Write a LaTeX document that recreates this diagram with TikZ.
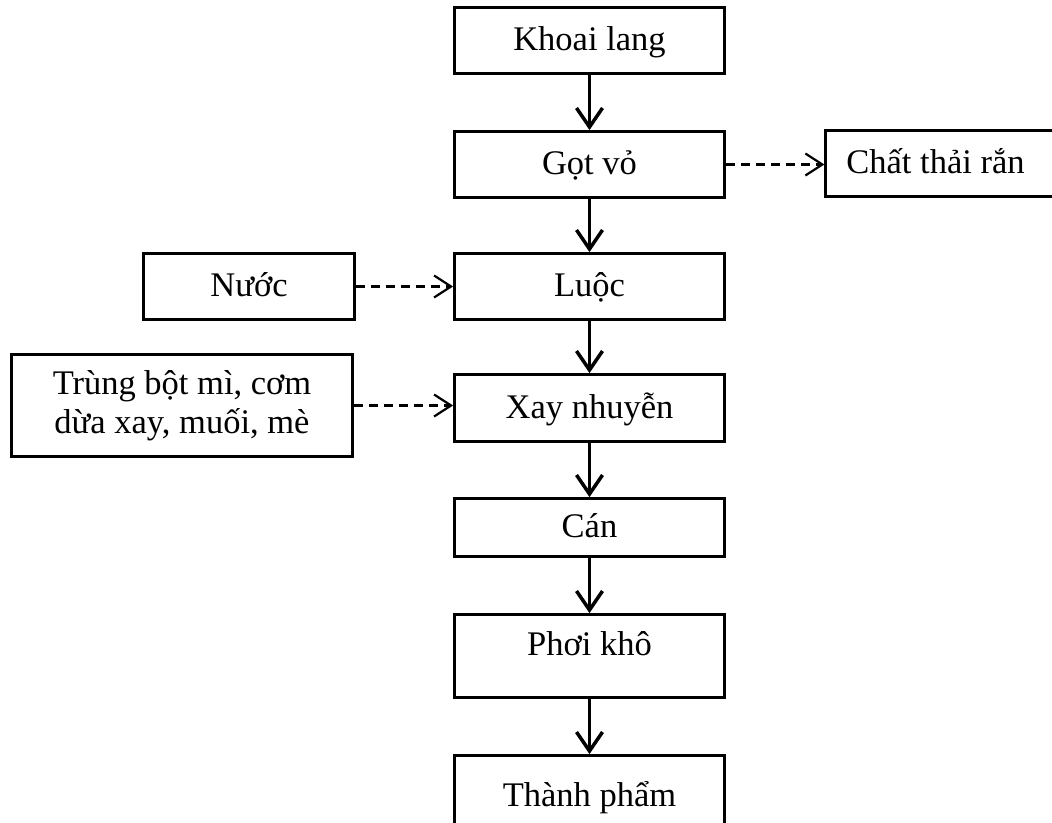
\documentclass[tikz,border=0pt]{standalone}
\usepackage{fontspec}
\setmainfont{Liberation Serif}
\usetikzlibrary{arrows.meta}
\begin{document}
\begin{tikzpicture}[x=1pt,y=-1pt,
  txt/.style={font=\fontsize{34.5}{39}\selectfont},
  box/.style={draw, line width=2.8pt, inner sep=0pt, txt,
    text height=26pt, text depth=6pt},
  mainbox/.style={box, minimum width=270pt},
  lbl/.style={txt, inner sep=0pt, anchor=base},
  flow/.style={line width=3.5pt, -{Straight Barb[length=19pt,width=26pt]}},
  dflow/.style={line width=2.2pt, dash pattern=on 9pt off 6pt,
    -{Straight Barb[length=17pt,width=22pt]}}]
\useasboundingbox (0,0) rectangle (1052,822);
\clip (0,0) rectangle (1052,822);

% main process column
\node[mainbox, minimum height=66pt] (kl) at (589.5,40.5) {Khoai lang};
\node[mainbox, minimum height=66pt] (gv) at (589.5,164.5) {Gọt vỏ};
\node[mainbox, minimum height=66pt] (lu) at (589.5,286.5) {Luộc};
\node[mainbox, minimum height=67pt] (xn) at (589.5,408) {Xay nhuyễn};
\node[mainbox, minimum height=58pt] (ca) at (589.5,527.5) {Cán};
\node[mainbox, minimum height=83pt] (pk) at (589.5,656) {};
\node[lbl] (pkt) at (589.5,655) {Phơi khô};
\node[mainbox, minimum height=83pt] (tp) at (589.5,797) {};
\node[lbl] (tpt) at (589.5,806) {Thành phẩm};

% side inputs and outputs
\node[box, anchor=west, minimum width=240pt, minimum height=66pt,
  inner xsep=20.6pt] (ct) at (824.4,163.5) {\makebox[199pt][l]{Chất thải rắn}};
\node[box, minimum width=211pt, minimum height=66pt] (nu) at (249,286.5) {Nước};
\node[draw, line width=2.8pt, inner sep=0pt, txt, align=center,
  minimum width=341pt, minimum height=102pt] (tb) at (182,405.5)
  {Trùng bột mì, cơm\\dừa xay, muối, mè};

% connectors
\draw[flow] (kl) -- (gv);
\draw[flow] (gv) -- (lu);
\draw[flow] (lu) -- (xn);
\draw[flow] (xn) -- (ca);
\draw[flow] (ca) -- (pk);
\draw[flow] (pk) -- (tp);
\draw[dflow] (gv.east) -- (gv.east -| ct.west);
\draw[dflow] (nu.east) -- (lu.west);
\draw[dflow] (tb.east) -- (tb.east -| xn.west);
\end{tikzpicture}
\end{document}
